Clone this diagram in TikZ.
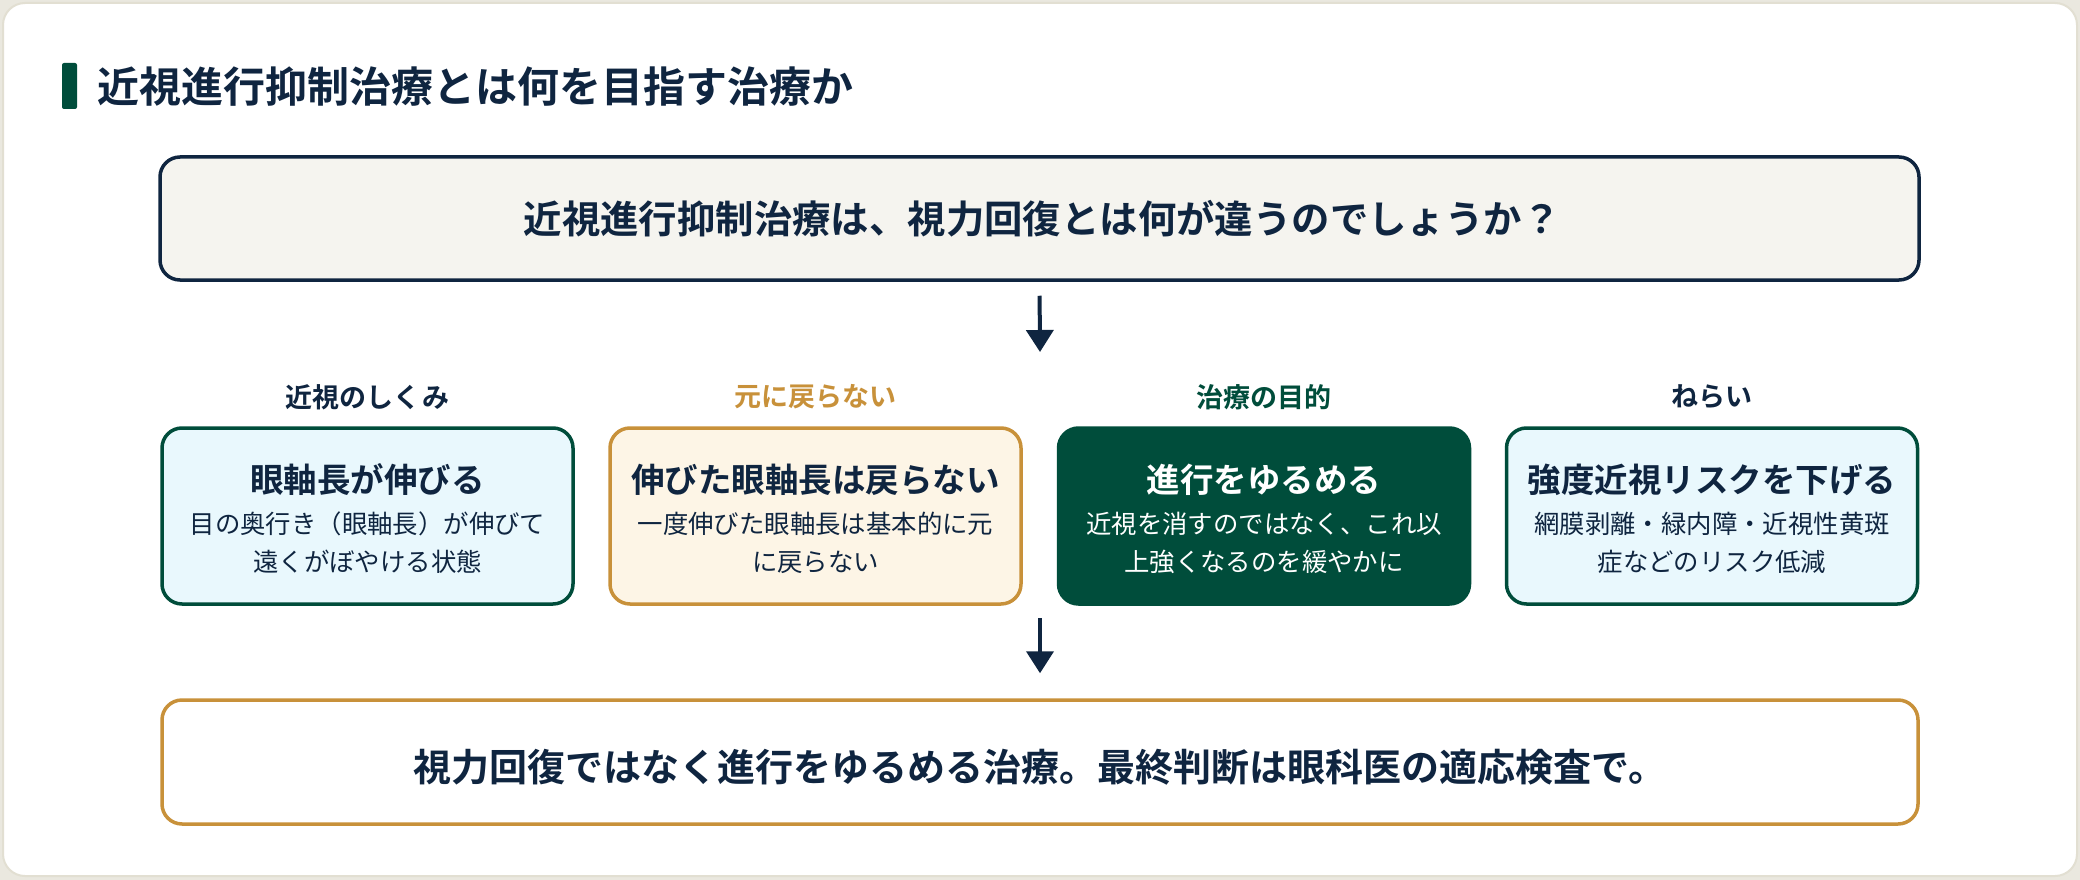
\documentclass[tikz,border=0pt]{standalone}
\usepackage{fontspec}
\setmainfont{Noto Sans CJK JP}[BoldFont={Noto Sans CJK JP Bold}]
\usetikzlibrary{arrows.meta}
\definecolor{navy}{HTML}{0F2540}
\definecolor{dgreen}{HTML}{004D3B}
\definecolor{gold}{HTML}{C8913A}
\definecolor{cyanbg}{HTML}{E9F8FD}
\definecolor{creambg}{HTML}{FDF5E6}
\definecolor{qbg}{HTML}{F5F4EF}
\definecolor{pagebg}{HTML}{EAE8DF}
\definecolor{cardline}{HTML}{E2DFD2}
\tikzset{
  card/.style={draw=cardline, line width=2pt, fill=white, rounded corners=22pt},
  qbox/.style={draw=navy, line width=3.5pt, fill=qbg, rounded corners=20pt, minimum width=1759pt, minimum height=123pt, inner sep=0pt},
  finbox/.style={draw=gold, line width=3.5pt, fill=white, rounded corners=20pt, minimum width=1756pt, minimum height=124pt, inner sep=0pt},
  stepbox/.style={line width=3.5pt, rounded corners=20pt, minimum width=411pt, minimum height=176pt, inner sep=0pt},
  boxtitle/.style={font=\bfseries\fontsize{33.5}{40}\selectfont, inner sep=0pt},
  boxbody/.style={font=\fontsize{25.4}{38}\selectfont, align=center, inner sep=0pt},
  lbl/.style={font=\bfseries\fontsize{27}{32}\selectfont, inner sep=0pt},
  flowarrow/.style={draw=navy, line width=4pt, -{Triangle[width=27pt,length=22pt]}},
}
\begin{document}
\begin{tikzpicture}[x=1pt,y=-1pt]
\useasboundingbox (0,0) rectangle (2080,880);
\fill[pagebg] (0,0) rectangle (2080,880);
\draw[card] (3,3) rectangle (2077,876);
% title
\fill[dgreen, rounded corners=2pt] (62,63) rectangle (77,109);
\node[anchor=west, inner sep=0pt, text=navy, font=\bfseries\fontsize{42}{50}\selectfont] (title) at (97,87) {近視進行抑制治療とは何を目指す治療か};
% question
\node[qbox] (q) at (1039.5,218.5) {};
\node[inner sep=0pt, text=navy, font=\bfseries\fontsize{38.4}{46}\selectfont] (qt) at (1042,219) {近視進行抑制治療は、視力回復とは何が違うのでしょうか？};
% arrow 1
\coordinate (a1e) at (1040,352);
\draw[flowarrow, shorten <=14pt] (q.south) -- (a1e);
% labels
\node[lbl, text=navy] (l1) at (367.5,397) {近視のしくみ};
\node[lbl, text=gold] (l2) at (815.5,397) {元に戻らない};
\node[lbl, text=dgreen] (l3) at (1264,397) {治療の目的};
\node[lbl, text=navy] (l4) at (1712,397) {ねらい};
% boxes
\node[stepbox, draw=dgreen, fill=cyanbg] (b1) at (367.5,516) {};
\node[stepbox, draw=gold, fill=creambg] (b2) at (815.5,516) {};
\node[stepbox, draw=dgreen, fill=dgreen] (b3) at (1264,516) {};
\node[stepbox, draw=dgreen, fill=cyanbg] (b4) at (1712,516) {};
\node[boxtitle, text=navy] (t1) at (367.5,480) {眼軸長が伸びる};
\node[boxbody, text=navy] (d1) at (367.5,543) {目の奥行き（眼軸長）が伸びて\\遠くがぼやける状態};
\node[boxtitle, text=navy] (t2) at (815.5,480) {伸びた眼軸長は戻らない};
\node[boxbody, text=navy] (d2) at (815.5,543) {一度伸びた眼軸長は基本的に元\\に戻らない};
\node[boxtitle, text=white] (t3) at (1264,480) {進行をゆるめる};
\node[boxbody, text=white] (d3) at (1264,543) {近視を消すのではなく、これ以\\上強くなるのを緩やかに};
\node[boxtitle, text=navy] (t4) at (1712,480) {強度近視リスクを下げる};
\node[boxbody, text=navy] (d4) at (1712,543) {網膜剥離・緑内障・近視性黄斑\\症などのリスク低減};
% final
\node[finbox] (fin) at (1040,762) {};
\node[inner sep=0pt, text=navy, font=\bfseries\fontsize{38}{45}\selectfont] (ft) at (1040,767) {視力回復ではなく進行をゆるめる治療。最終判断は眼科医の適応検査で。};
% arrow 2
\coordinate (a2s) at (1040,604);
\draw[flowarrow, shorten <=14pt, shorten >=25pt] (a2s) -- (fin.north);
\end{tikzpicture}
\end{document}
